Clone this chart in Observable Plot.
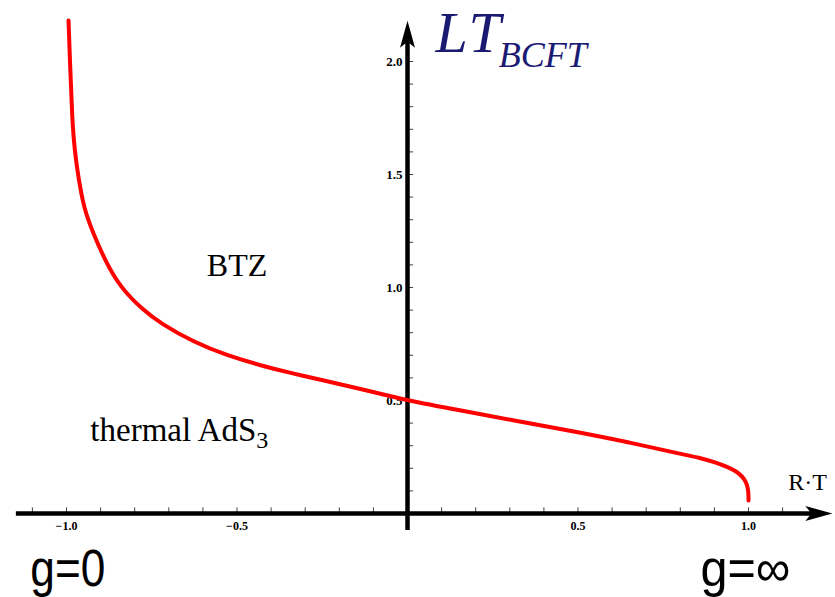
<!DOCTYPE html>
<html><head><meta charset="utf-8">
<script src="https://cdn.jsdelivr.net/npm/d3@7"></script>
<script src="https://cdn.jsdelivr.net/npm/@observablehq/plot@0.6"></script>
<style>body{margin:0;background:#fff}</style>
</head><body><div id="chart"></div>
<script>
// Curve: LT_BCFT versus R·T
const rt = [-0.994, -0.990, -0.985, -0.982, -0.976, -0.966, -0.953, -0.941, -0.925, -0.887, -0.842, -0.774, -0.724, -0.627, -0.529, -0.431, -0.333, -0.255, -0.138, 0, 0.155, 0.3, 0.5, 0.65, 0.8, 0.859, 0.903, 0.938, 0.965, 0.982, 0.994, 0.999, 1.0, 1.0];
const lt = [2.181, 2.004, 1.827, 1.717, 1.606, 1.496, 1.385, 1.319, 1.252, 1.119, 1.000, 0.898, 0.841, 0.758, 0.699, 0.655, 0.618, 0.592, 0.552, 0.5, 0.456, 0.415, 0.36, 0.315, 0.264, 0.246, 0.226, 0.206, 0.186, 0.164, 0.137, 0.106, 0.08, 0.057];

// Ticks
const xTickValues = [-1, -0.5, 0.5, 1];
const xTickLabels = ["\u22121.0", "\u22120.5", "0.5", "1.0"];
const yTickValues = [0.5, 1, 1.5, 2];
const yTickLabels = ["0.5", "1.0", "1.5", "2.0"];
const xMinorTicks = [-1.1,-1,-0.9,-0.8,-0.7,-0.6,-0.5,-0.4,-0.3,-0.2,-0.1,0.1,0.2,0.3,0.4,0.5,0.6,0.7,0.8,0.9,1,1.1];
const yMinorTicks = [0.1,0.2,0.3,0.4,0.5,0.6,0.7,0.8,0.9,1,1.1,1.2,1.3,1.4,1.5,1.6,1.7,1.8,1.9,2];

// Axis extents (data units)
const xAxisExtent = [-1.147, 1.2];
const xArrowTip = [1.246];
const yAxisExtent = [-0.075, 2.1];
const yArrowTip = [2.18];

// Texts
const yTitle = ["LT"], yTitleSub = "BCFT";
const xTitle = ["R\u00B7T"];
const regionUpper = ["BTZ"];
const regionLower = ["thermal AdS"], regionLowerSub = "3";
const leftNote = ["g=0"], rightNote = ["g=\u221E"];

const curve = rt.map((x, i) => ({x, y: lt[i]}));
const xTicks = xTickValues.map((v, i) => ({v, label: xTickLabels[i]}));
const yTicks = yTickValues.map((v, i) => ({v, label: yTickLabels[i]}));

const arrowHead = {
  draw(ctx) {
    ctx.moveTo(0, 0);
    ctx.lineTo(7.5, 27);
    ctx.lineTo(0, 21);
    ctx.lineTo(-7.5, 27);
    ctx.closePath();
  }
};

const serif = "'Liberation Serif', 'Times New Roman', serif";
const sans = "'Liberation Sans', Arial, sans-serif";

const plot = Plot.plot({
  width: 835,
  height: 597,
  margin: 0,
  x: {domain: [-1, 1], range: [66, 748], axis: null},
  y: {domain: [0, 2], range: [513, 61], axis: null},
  style: {background: "#fff"},
  marks: [
    Plot.ruleX(xMinorTicks, {x: d => d, y1: 0, y2: 0.025, stroke: "#444", strokeWidth: 1}),
    Plot.ruleY(yMinorTicks, {y: d => d, x1: 0, x2: 0.018, stroke: "#444", strokeWidth: 1}),
    Plot.ruleY([0], {x1: xAxisExtent[0], x2: xAxisExtent[1], stroke: "black", strokeWidth: 4.5}),
    Plot.ruleX([0], {y1: yAxisExtent[0], y2: yAxisExtent[1], stroke: "black", strokeWidth: 4.5}),
    Plot.dot(xArrowTip, {x: d => d, y: 0, rotate: 90, symbol: arrowHead, fill: "black", stroke: null, r: 10}),
    Plot.dot(yArrowTip, {x: 0, y: d => d, rotate: 0, symbol: arrowHead, fill: "black", stroke: null, r: 10}),
    Plot.text(xTicks, {x: "v", y: 0, text: "label", dy: 16, lineAnchor: "bottom", fontFamily: serif, fontWeight: "bold", fontSize: 12, fill: "black"}),
    Plot.text(yTicks, {x: 0, y: "v", text: "label", dx: -5, textAnchor: "end", fontFamily: serif, fontWeight: "bold", fontSize: 13, fill: "black"}),
    Plot.line(curve, {x: "x", y: "y", stroke: "#ff0000", strokeWidth: 4, curve: "basis"}),
    Plot.text(yTitle, {x: 0.082, y: 2.040, text: d => d, textAnchor: "start", lineAnchor: "bottom", fontFamily: serif, fontStyle: "italic", fontSize: 58, fill: "#1a1a73"}),
    Plot.text(xTitle, {x: 1.173, y: 0.106, text: d => d, textAnchor: "middle", lineAnchor: "bottom", fontFamily: serif, fontSize: 24, fill: "black"}),
    Plot.text(regionUpper, {x: -0.5, y: 1.053, text: d => d, textAnchor: "middle", lineAnchor: "bottom", fontFamily: serif, fontSize: 32, fill: "black"}),
    Plot.text(regionLower, {x: -0.93, y: 0.323, text: d => d, textAnchor: "start", lineAnchor: "bottom", fontFamily: serif, fontSize: 33, fill: "black"}),
    Plot.text(leftNote, {x: -1.106, y: -0.323, text: d => d, textAnchor: "start", lineAnchor: "bottom", fontFamily: sans, fontSize: 52, fill: "black"}),
    Plot.text(rightNote, {x: 0.859, y: -0.323, text: d => d, textAnchor: "start", lineAnchor: "bottom", fontFamily: sans, fontSize: 52, fill: "black"})
  ]
});

d3.select(plot).selectAll("text").each(function() {
  const t = this.textContent;
  const sel = d3.select(this);
  if (t === yTitle[0]) {
    sel.attr("letter-spacing", 2);
    sel.append("tspan").attr("dx", -4).attr("dy", 15).attr("font-size", 36).attr("letter-spacing", 0).text(yTitleSub);
  } else if (t === regionLower[0]) {
    sel.append("tspan").attr("dy", 7).attr("font-size", 24).text(regionLowerSub);
  } else if (t === leftNote[0]) {
    sel.attr("textLength", 75).attr("lengthAdjust", "spacingAndGlyphs");
  } else if (t === rightNote[0]) {
    sel.attr("textLength", 90).attr("lengthAdjust", "spacingAndGlyphs");
  }
});

document.getElementById("chart").appendChild(plot);
</script>
</body></html>
